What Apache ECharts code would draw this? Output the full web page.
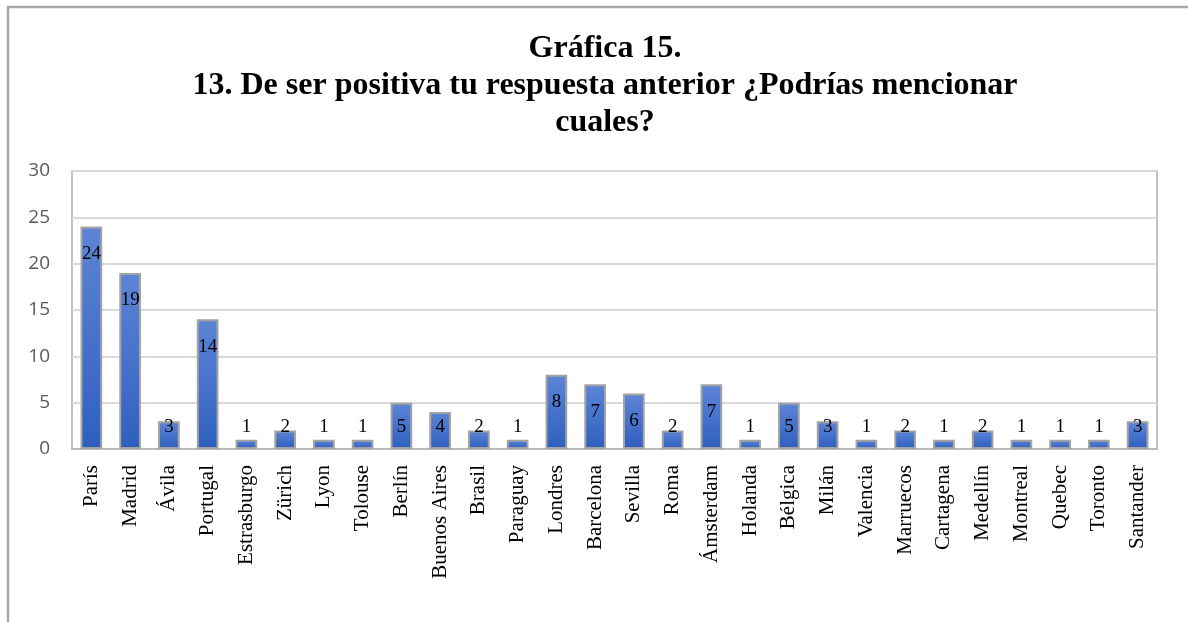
<!DOCTYPE html>
<html>
<head>
<meta charset="utf-8">
<script src="https://cdn.jsdelivr.net/npm/echarts@6/dist/echarts.min.js"></script>
<style>
  html, body { margin: 0; padding: 0; background: #fff; }
  #chart { width: 1188px; height: 622px; }
</style>
</head>
<body>
<div id="chart"></div>
<script>
// ciudades mencionadas
var cities = ["París", "Madrid", "Ávila", "Portugal", "Estrasburgo", "Zürich", "Lyon", "Tolouse", "Berlín",
  "Buenos Aires", "Brasil", "Paraguay", "Londres", "Barcelona", "Sevilla", "Roma", "Ámsterdam", "Holanda",
  "Bélgica", "Milán", "Valencia", "Marruecos", "Cartagena", "Medellín", "Montreal", "Quebec", "Toronto", "Santander"];
var counts = [24, 19, 3, 14, 1, 2, 1, 1, 5, 4, 2, 1, 8, 7, 6, 2, 7, 1, 5, 3, 1, 2, 1, 2, 1, 1, 1, 3];
var yTicks = [0, 5, 10, 15, 20, 25, 30];

var serif = "'Liberation Serif', 'Times New Roman', serif";

var myChart = echarts.init(document.getElementById("chart"));

// etiqueta dentro arriba, o abajo si la barra es corta
var barData = counts.map(function (v) {
  return {
    value: v,
    label: v > 5 ? { position: "insideTop", distance: 18 } : { position: "insideBottom", distance: 12 }
  };
});

var option = {
  animation: false,
  title: {
    text: "Gráfica 15.\n13. De ser positiva tu respuesta anterior ¿Podrías mencionar\ncuales?",
    left: 600,
    textAlign: "center",
    top: 25,
    textStyle: {
      fontFamily: serif,
      fontWeight: "bold",
      fontSize: 32,
      lineHeight: 37,
      color: "#000"
    }
  },
  graphic: [
    {
      type: "rect",
      shape: { x: 8, y: 7, width: 1200, height: 700 },
      style: { fill: "none", stroke: "#a6a6a6", lineWidth: 2.5 },
      silent: true
    }
  ],
  grid: { left: 72, top: 171, width: 1085, height: 278, show: true, borderColor: "#b0b0b0", borderWidth: 1.5 },
  xAxis: {
    type: "category",
    data: cities,
    axisLine: { lineStyle: { color: "#b0b0b0", width: 1.5 } },
    axisTick: { show: false },
    axisLabel: {
      rotate: 90,
      interval: 0,
      margin: 16,
      fontFamily: serif,
      fontSize: 21,
      color: "#000"
    }
  },
  yAxis: {
    type: "value",
    min: yTicks[0],
    max: yTicks[yTicks.length - 1],
    interval: 5,
    axisLine: { show: false },
    axisTick: { show: false },
    splitLine: { lineStyle: { color: "#d9d9d9", width: 2 } },
    axisLabel: {
      margin: 22,
      fontFamily: "'Open Sans', 'DejaVu Sans', sans-serif",
      fontSize: 19,
      color: "#595959"
    }
  },
  series: [
    {
      type: "bar",
      data: barData,
      barCategoryGap: "44%",
      itemStyle: {
        color: new echarts.graphic.LinearGradient(0, 0, 0, 1, [
          { offset: 0, color: "#5d85d6" },
          { offset: 1, color: "#2f5fbf" }
        ]),
        borderColor: "#a3a3a3",
        borderWidth: 2
      },
      label: {
        show: true,
        fontFamily: serif,
        fontSize: 19,
        color: "#000"
      }
    }
  ]
};

myChart.setOption(option);
</script>
</body>
</html>
